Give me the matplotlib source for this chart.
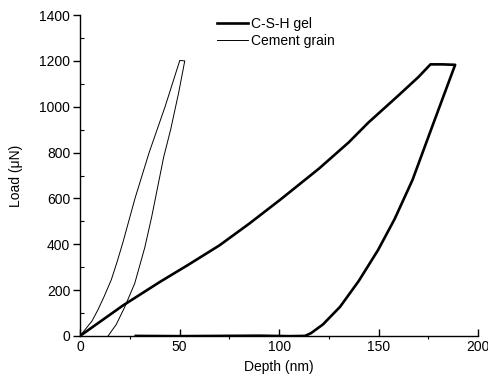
import matplotlib.pyplot as plt
from matplotlib.ticker import MultipleLocator

plt.rcParams['font.family'] = ['Liberation Sans', 'DejaVu Sans']

# C-S-H gel: load, hold, unload, then retract along zero
csh_depth = [0, 21.6, 40, 54.3, 70, 85, 100.5, 120, 135, 144.7, 160, 170, 176, 182, 188.4,
             178, 167, 158, 149.7, 140, 130.6, 122, 116, 113, 105, 90, 70, 50, 28]
csh_load = [0, 133, 235, 310, 395, 490, 594, 730, 845, 930, 1050, 1130, 1185, 1185, 1183,
            940, 681, 510, 375, 240, 127, 50, 12, 0, -1, 1, 0, -1, 0]

# Cement grain: load, hold, unload
cem_depth = [0, 2.4, 6, 9, 12, 15.7, 18.5, 21.6, 27.6, 34.7, 42.7, 50.1, 52.6,
             49.5, 45.5, 42, 39, 36, 32.5, 27.5, 22.4, 18.2, 14.1]
cem_load = [0, 26, 65, 114, 170, 245, 320, 410, 600, 800, 1000, 1202, 1200,
            1060, 900, 780, 650, 520, 385, 230, 125, 50, 0]

fig = plt.figure(figsize=(4.88, 3.87), dpi=100)
ax = fig.add_axes([0.164, 0.132, 0.816, 0.829])

ax.plot(csh_depth, csh_load, color='black', lw=1.9, label='C-S-H gel', solid_joinstyle='round')
ax.plot(cem_depth, cem_load, color='black', lw=0.7, label='Cement grain')

ax.set_xlim(0, 200)
ax.set_ylim(0, 1400)
ax.xaxis.set_major_locator(MultipleLocator(50))
ax.xaxis.set_minor_locator(MultipleLocator(25))
ax.yaxis.set_major_locator(MultipleLocator(200))
ax.yaxis.set_minor_locator(MultipleLocator(100))

for s in ['top', 'right']:
    ax.spines[s].set_visible(False)
for s in ['left', 'bottom']:
    ax.spines[s].set_linewidth(1.0)

ax.tick_params(axis='y', which='major', direction='out', length=5, width=1, labelsize=10, pad=2)
ax.tick_params(axis='y', which='minor', direction='in', length=3, width=0.8)
ax.tick_params(axis='x', which='major', direction='in', length=5, width=1, labelsize=10, pad=3)
ax.tick_params(axis='x', which='minor', direction='out', length=2, width=0.8)

ax.set_xlabel('Depth (nm)', fontsize=10, labelpad=4)
ax.set_ylabel('Load (μN)', fontsize=10, labelpad=12)

ax.legend(loc='upper left', bbox_to_anchor=(0.345, 0.995), frameon=False, fontsize=10,
          handlelength=2.2, handletextpad=0.2, labelspacing=0.25, borderpad=0, borderaxespad=0)

fig.savefig('out.png', dpi=100)
